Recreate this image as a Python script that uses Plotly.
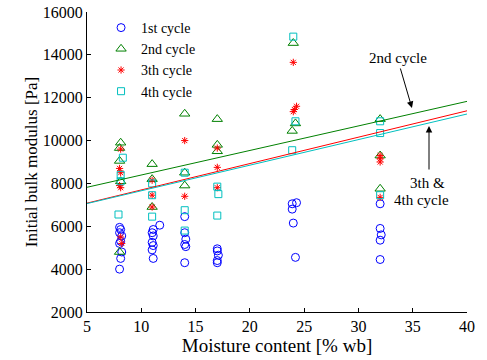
import plotly.graph_objects as go

# ---- data ----
c1_x = [8.0, 8.1, 8.0, 8.2, 8.1, 8.0, 8.2, 8.1, 8.0,
        11.7, 11.1, 11.0, 11.1, 11.0, 11.1, 11.0, 11.1,
        14.0, 14.0, 14.1, 14.0, 14.1, 14.0,
        17.0, 17.0, 17.1, 17.0, 17.0,
        24.3, 23.9, 23.9, 24.0, 24.2,
        32.0, 32.0, 32.1, 32.0, 32.0]
c1_y = [5950, 5850, 5700, 5550, 5300, 5200, 4800, 4500, 4000,
        6050, 5850, 5700, 5550, 5250, 5100, 4900, 4500,
        6450, 5700, 5400, 5150, 5050, 4300,
        4950, 4850, 4650, 4400, 4300,
        7100, 7050, 6800, 6150, 4550,
        7050, 5900, 5600, 5350, 4450]

c2_x = [8.1, 8.0, 8.0, 8.1, 8.0,
        11.0, 11.0, 11.0,
        14.0, 14.0, 14.0,
        17.0, 17.0, 17.0,
        24.0, 24.2, 23.9,
        32.0, 32.0, 32.0]
c2_y = [9900, 9650, 9050, 8100, 4800,
        8900, 8200, 6900,
        11250, 8500, 7900,
        11000, 9800, 9500,
        14550, 10800, 10450,
        11000, 9300, 7750]

c3_x = [8.1, 8.0, 8.1, 8.0, 8.1, 8.1, 8.2,
        11.0, 11.0, 11.0,
        14.0, 14.0,
        17.0, 17.0, 17.0,
        24.0, 24.3, 24.1, 24.0,
        32.0, 32.0, 32.0, 32.0]
c3_y = [9600, 8700, 8500, 7900, 7800, 5500, 5200,
        8150, 7450, 6900,
        10000, 7400,
        9650, 8750, 7800,
        13650, 11600, 11450, 11350,
        9300, 9150, 9000, 7350]

c4_x = [8.3, 8.1, 8.1, 7.9,
        11.0, 11.0, 11.0,
        14.0, 14.0, 14.0,
        17.0, 17.1, 17.0,
        24.0, 24.2, 23.9,
        32.0, 32.0, 32.0]
c4_y = [9200, 8400, 8100, 6550,
        8000, 7450, 6450,
        8500, 6750, 5800,
        7850, 7500, 6500,
        14850, 10900, 9550,
        10900, 10350, 7450]

fit_x = [5, 40]
fit2_y = [7820, 11830]
fit3_y = [7080, 11390]
fit4_y = [7060, 11240]

x_ticks = [5, 10, 15, 20, 25, 30, 35, 40]
y_ticks = [2000, 4000, 6000, 8000, 10000, 12000, 14000, 16000]

BLUE = "rgb(0,0,255)"
GREEN = "rgb(0,128,0)"
RED = "rgb(255,0,0)"
CYAN = "rgb(0,191,191)"
FONT = "Liberation Serif, Times New Roman, serif"

fig = go.Figure()
fig.add_trace(go.Scatter(x=c1_x, y=c1_y, mode="markers", name="1st cycle",
                         marker=dict(symbol="circle-open", size=8, color=BLUE, line=dict(width=1))))
fig.add_trace(go.Scatter(x=c2_x, y=c2_y, mode="markers", name="2nd cycle",
                         marker=dict(symbol="triangle-up-open", size=9, color=GREEN, line=dict(width=1))))
fig.add_trace(go.Scatter(x=c3_x, y=c3_y, mode="markers", name="3th cycle",
                         marker=dict(symbol="asterisk-open", size=6, color=RED, line=dict(width=1, color=RED))))
fig.add_trace(go.Scatter(x=c4_x, y=c4_y, mode="markers", name="4th cycle",
                         marker=dict(symbol="square-open", size=7, color=CYAN, line=dict(width=1))))
fig.add_trace(go.Scatter(x=fit_x, y=fit2_y, mode="lines", line=dict(color=GREEN, width=1), showlegend=False))
fig.add_trace(go.Scatter(x=fit_x, y=fit3_y, mode="lines", line=dict(color=RED, width=1), showlegend=False))
fig.add_trace(go.Scatter(x=fit_x, y=fit4_y, mode="lines", line=dict(color=CYAN, width=1), showlegend=False))

ann_font = dict(family=FONT, size=15, color="black")
fig.add_annotation(x=33.65, y=13853, text="2nd cycle", showarrow=False, font=ann_font)
fig.add_annotation(x=34.93, y=11520, text="", showarrow=True, ax=-12, ay=-41,
                   arrowhead=2, arrowsize=1.3, arrowwidth=1, arrowcolor="black")
fig.add_annotation(x=36.4, y=8020, text="3th &", showarrow=False, font=ann_font)
fig.add_annotation(x=35.8, y=7230, text="4th cycle", showarrow=False, font=ann_font)
fig.add_annotation(x=36.5, y=10680, text="", showarrow=True, ax=0, ay=45,
                   arrowhead=2, arrowsize=1.3, arrowwidth=1, arrowcolor="black")

axis_common = dict(showline=True, linecolor="black", linewidth=1, ticks="inside", ticklen=4,
                   tickcolor="black", showgrid=False, zeroline=False, mirror=False,
                   automargin=False,
                   tickfont=dict(family=FONT, size=16, color="black"))
fig.update_xaxes(range=[5, 40], tickvals=x_ticks, ticktext=[str(v) for v in x_ticks],
                 title=dict(text="Moisture content [% wb]", font=dict(family=FONT, size=19, color="black"),
                            standoff=0), **axis_common)
fig.update_yaxes(range=[2000, 16000], tickvals=y_ticks, ticktext=[str(v) for v in y_ticks],
                 title=dict(text="Initial bulk modulus [Pa]", font=dict(family=FONT, size=17, color="black"),
                            standoff=0), **axis_common)

fig.update_layout(width=487, height=360, margin=dict(l=87, r=20, t=12, b=48),
                  plot_bgcolor="white", paper_bgcolor="white",
                  font=dict(family=FONT, color="black"),
                  legend=dict(x=0.037, y=1.0, xanchor="left", yanchor="top",
                              bgcolor="rgba(0,0,0,0)", borderwidth=0,
                              font=dict(family=FONT, size=14, color="black"),
                              itemsizing="trace", tracegroupgap=0))

fig.write_html("out.html")
